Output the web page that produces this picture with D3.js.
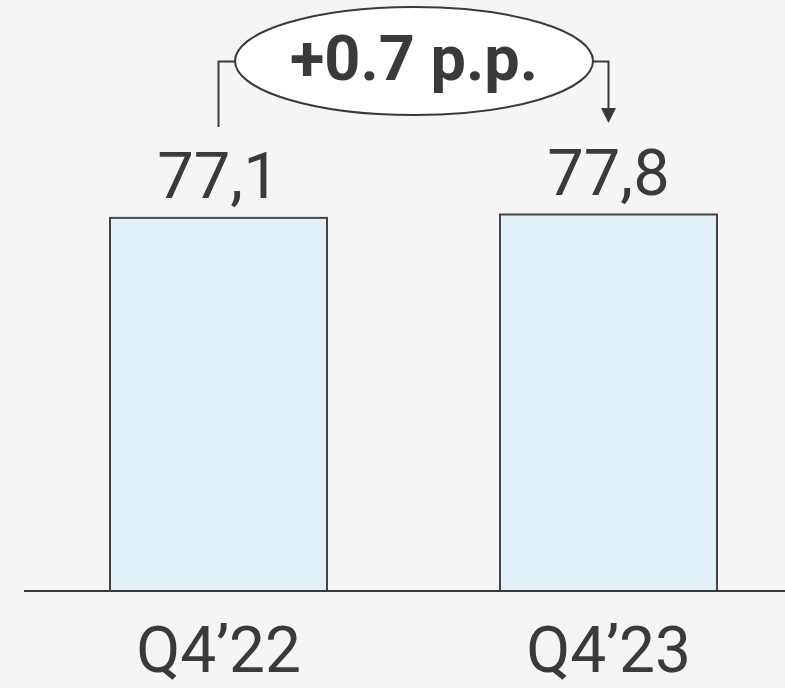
<!DOCTYPE html>
<html>
<head>
<meta charset="utf-8">
<script src="https://cdn.jsdelivr.net/npm/d3@7"></script>
<style>
  html, body { margin: 0; padding: 0; background: #f5f5f5; }
  svg { display: block; }
</style>
</head>
<body>
<div id="chart"></div>
<script>
// data
const categories = ['Q4\u201922', 'Q4\u201923'];
const values = [77.1, 77.8];
const valueLabels = ['77,1', '77,8'];
const deltaLabel = '+0.7 p.p.';

const width = 785, height = 688;
const baseY = 591;
const ink = '#3a3a3a';

const svg = d3.select('#chart').append('svg')
  .attr('width', width)
  .attr('height', height);

svg.append('rect')
  .attr('width', width).attr('height', height)
  .attr('fill', '#f5f5f5');

const x = d3.scaleBand()
  .domain(categories)
  .range([110, 717])
  .paddingInner(173 / 390)
  .paddingOuter(0);

const y = d3.scaleLinear()
  .domain([0, 77.8])
  .range([baseY, 214.5]);

// bars
svg.append('g')
  .selectAll('rect')
  .data(values)
  .join('rect')
  .attr('x', (d, i) => x(categories[i]))
  .attr('y', d => y(d))
  .attr('width', x.bandwidth())
  .attr('height', d => baseY - y(d))
  .attr('fill', '#e1eff7')
  .attr('stroke', '#454545')
  .attr('stroke-width', 2);

// baseline
svg.append('line')
  .attr('x1', 24).attr('x2', width)
  .attr('y1', baseY).attr('y2', baseY)
  .attr('stroke', ink)
  .attr('stroke-width', 2);

// value labels
svg.append('g')
  .selectAll('text')
  .data(values)
  .join('text')
  .attr('x', (d, i) => x(categories[i]) + x.bandwidth() / 2)
  .attr('y', d => y(d) - 20)
  .attr('text-anchor', 'middle')
  .attr('font-family', 'Roboto, sans-serif')
  .attr('font-size', 65)
  .attr('fill', ink)
  .text((d, i) => valueLabels[i]);

// category labels
svg.append('g')
  .selectAll('text')
  .data(categories)
  .join('text')
  .attr('x', d => x(d) + x.bandwidth() / 2)
  .attr('y', 672)
  .attr('text-anchor', 'middle')
  .attr('font-family', 'Roboto, sans-serif')
  .attr('font-size', 64)
  .attr('fill', ink)
  .text(d => d);

// delta bracket
const cx0 = x(categories[0]) + x.bandwidth() / 2;
const cx1 = x(categories[1]) + x.bandwidth() / 2;
const ex = 414, ey = 61, rx = 179, ry = 54;
const lineY = 61.5;

svg.append('path')
  .attr('d', `M${cx0},127 V${lineY} H${ex - rx}`)
  .attr('fill', 'none')
  .attr('stroke', ink)
  .attr('stroke-width', 2);

svg.append('path')
  .attr('d', `M${ex + rx},${lineY} H${cx1} V110`)
  .attr('fill', 'none')
  .attr('stroke', ink)
  .attr('stroke-width', 2);

svg.append('path')
  .attr('d', `M${cx1 - 7.5},108 L${cx1 + 7.5},108 L${cx1},123 Z`)
  .attr('fill', ink);

svg.append('ellipse')
  .attr('cx', ex).attr('cy', ey)
  .attr('rx', rx).attr('ry', ry)
  .attr('fill', '#ffffff')
  .attr('stroke', ink)
  .attr('stroke-width', 2);

svg.append('text')
  .attr('x', ex)
  .attr('y', 80)
  .attr('text-anchor', 'middle')
  .attr('font-family', 'Roboto, sans-serif')
  .attr('font-weight', 'bold')
  .attr('font-size', 63)
  .attr('fill', ink)
  .text(deltaLabel);
</script>
</body>
</html>
